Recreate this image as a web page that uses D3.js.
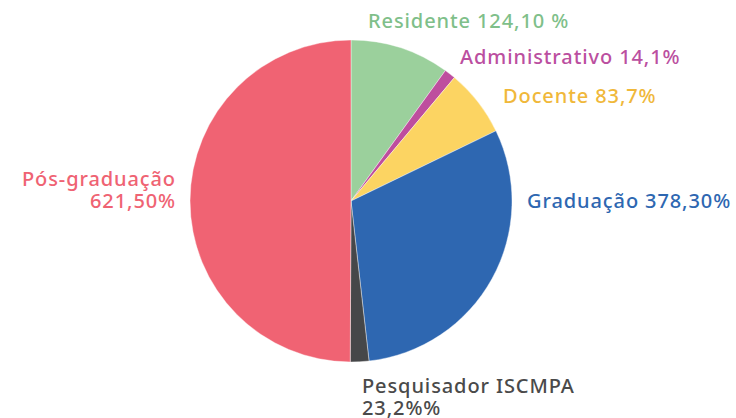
<!DOCTYPE html>
<html>
<head>
<meta charset="utf-8">
<script src="https://cdn.jsdelivr.net/npm/d3@7"></script>
<style>
  html, body { margin: 0; padding: 0; background: #fff; }
  text { font-family: "Noto Sans", "Open Sans", sans-serif; font-weight: 500; font-size: 20px; letter-spacing: 0.9px; }
</style>
</head>
<body>
<div id="pie_div"></div>
<script>
const width = 736;
const height = 418;

// data, clockwise from 12 o'clock
const categories = ["Residente", "Administrativo", "Docente", "Graduação", "Pesquisador ISCMPA", "Pós-graduação"];
const values = [124.10, 14.1, 83.7, 378.30, 23.2, 621.50];
const valueLabels = ["124,10 %", "14,1%", "83,7%", "378,30%", "23,2%%", "621,50%"];

const sliceColors = ["#9bd09c", "#be4e9e", "#fcd462", "#2e67b1", "#464749", "#f06373"];
const textColors = ["#7fbf8a", "#bb4fa0", "#f0b83a", "#2e67b1", "#4a4a4a", "#ef6373"];

// label layout: [x, y, anchor, split onto two lines]
const labelLayout = [
  [368, 28, "start", false],
  [460, 64, "start", false],
  [503, 103, "start", false],
  [527, 208, "start", false],
  [362, 393, "start", true],
  [176, 186, "end", true]
];

const cx = 351, cy = 201, radius = 161;

const svg = d3.select("#pie_div")
  .append("svg")
  .attr("width", width)
  .attr("height", height);

const pie = d3.pie().sort(null).value(d => d)(values);
const arc = d3.arc().innerRadius(0).outerRadius(radius);

svg.append("g")
  .attr("transform", "translate(" + cx + "," + cy + ")")
  .selectAll("path")
  .data(pie)
  .join("path")
  .attr("d", arc)
  .attr("fill", (d, i) => sliceColors[i])
  .attr("stroke", "#fff")
  .attr("stroke-width", 0.4);

// one text per line
const lines = [];
categories.forEach((c, i) => {
  const [x, y, anchor, split] = labelLayout[i];
  if (split) {
    lines.push({ text: c, x: x, y: y, anchor: anchor, i: i });
    lines.push({ text: valueLabels[i], x: x, y: y + 22, anchor: anchor, i: i });
  } else {
    lines.push({ text: c + " " + valueLabels[i], x: x, y: y, anchor: anchor, i: i });
  }
});

svg.append("g")
  .selectAll("text")
  .data(lines)
  .join("text")
  .attr("x", d => d.x)
  .attr("y", d => d.y)
  .attr("text-anchor", d => d.anchor)
  .attr("fill", d => textColors[d.i])
  .text(d => d.text);
</script>
</body>
</html>
